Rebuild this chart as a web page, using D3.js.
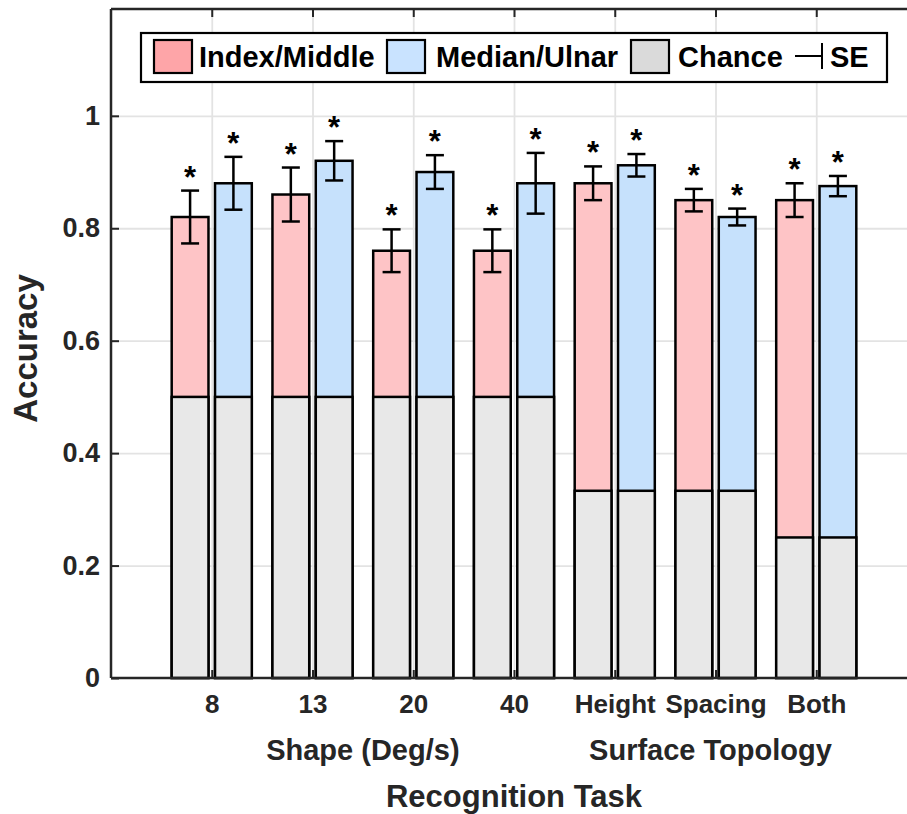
<!DOCTYPE html>
<html>
<head>
<meta charset="utf-8">
<script src="https://cdn.jsdelivr.net/npm/d3@7"></script>
<style>
  body { margin: 0; background: #fff; }
  svg { display: block; font-family: "Liberation Sans", Arial, sans-serif; font-weight: bold; }
</style>
</head>
<body>
<div id="chart"></div>
<script>
// task categories along x
const categories = ["8", "13", "20", "40", "Height", "Spacing", "Both"];
// mean accuracy per finger pair
const indexMiddle = [0.82, 0.86, 0.76, 0.76, 0.88, 0.85, 0.85];
const indexMiddleSE = [0.047, 0.048, 0.038, 0.038, 0.03, 0.02, 0.03];
const medianUlnar = [0.88, 0.92, 0.90, 0.88, 0.912, 0.82, 0.875];
const medianUlnarSE = [0.047, 0.035, 0.03, 0.054, 0.02, 0.015, 0.018];
// chance level per task
const chance = [0.5, 0.5, 0.5, 0.5, 0.333, 0.333, 0.25];
const yTicks = [0, 0.2, 0.4, 0.6, 0.8, 1];
const groupLabels = ["Shape (Deg/s)", "Surface Topology"];

const W = 907, H = 814;
const ink = "#262626";

const svg = d3.select("#chart").append("svg")
    .attr("width", W)
    .attr("height", H);

const x = d3.scaleLinear().domain([0, 8]).range([111, 917]);
const y = d3.scaleLinear().domain([0, 1.19]).range([678, 9]);

const barW = x(0.365) - x(0);
const offset = x(0.215) - x(0);

// Grid
svg.append("g")
    .attr("transform", `translate(${x(0)},0)`)
    .call(d3.axisLeft(y).tickValues(yTicks.slice(1)).tickSize(-(x(8) - x(0))).tickFormat(""))
    .call(g => g.select(".domain").remove())
    .selectAll("line").attr("stroke", "#e3e3e3").attr("stroke-width", 1.8);

svg.append("g")
    .attr("transform", `translate(0,${y(0)})`)
    .call(d3.axisBottom(x).tickValues(d3.range(1, 8)).tickSize(-(y(0) - y(1.19))).tickFormat(""))
    .call(g => g.select(".domain").remove())
    .selectAll("line").attr("stroke", "#e3e3e3").attr("stroke-width", 1.8);

// Axes (ticks inward)
svg.append("g")
    .attr("transform", `translate(${x(0)},0)`)
    .call(d3.axisLeft(y).tickValues(yTicks).tickSize(-8).tickPadding(11).tickFormat(d3.format("~g")))
    .call(g => g.select(".domain").remove())
    .call(g => g.selectAll("line").attr("stroke", ink).attr("stroke-width", 2))
    .call(g => g.selectAll("text").attr("fill", ink).attr("font-size", "27px")
        .attr("font-family", "Liberation Sans, Arial, sans-serif").attr("font-weight", "bold"));

svg.append("g")
    .attr("transform", `translate(0,${y(0)})`)
    .call(d3.axisBottom(x).tickValues(d3.range(1, 8)).tickSize(-8).tickPadding(17)
        .tickFormat(i => categories[i - 1]))
    .call(g => g.select(".domain").remove())
    .call(g => g.selectAll("line").attr("stroke", ink).attr("stroke-width", 2))
    .call(g => g.selectAll("text").attr("fill", ink).attr("font-size", "26px")
        .attr("font-family", "Liberation Sans, Arial, sans-serif").attr("font-weight", "bold"));

svg.append("g")
    .attr("transform", `translate(0,${y(1.19)})`)
    .call(d3.axisTop(x).tickValues(d3.range(1, 8)).tickSize(-8).tickFormat(""))
    .call(g => g.select(".domain").remove())
    .selectAll("line").attr("stroke", ink).attr("stroke-width", 2);

// Bars
const series = [
    { vals: indexMiddle, se: indexMiddleSE, fill: "#fec4c6", dx: -offset },
    { vals: medianUlnar, se: medianUlnarSE, fill: "#c6e1fc", dx: offset }
];

series.forEach(s => {
    const g = svg.append("g");
    categories.forEach((c, i) => {
        const cx = x(i + 1) + s.dx;
        g.append("rect")
            .attr("x", cx - barW / 2)
            .attr("y", y(s.vals[i]))
            .attr("width", barW)
            .attr("height", y(0) - y(s.vals[i]))
            .attr("fill", s.fill)
            .attr("stroke", "#000")
            .attr("stroke-width", 2.5);
        g.append("rect")
            .attr("x", cx - barW / 2)
            .attr("y", y(chance[i]))
            .attr("width", barW)
            .attr("height", y(0) - y(chance[i]))
            .attr("fill", "#e8e8e8")
            .attr("stroke", "#000")
            .attr("stroke-width", 2.5);

        // error bar
        const hi = y(s.vals[i] + s.se[i]), lo = y(s.vals[i] - s.se[i]);
        g.append("line").attr("x1", cx).attr("x2", cx).attr("y1", hi).attr("y2", lo)
            .attr("stroke", "#000").attr("stroke-width", 2.5);
        [hi, lo].forEach(yy => {
            g.append("line").attr("x1", cx - 9).attr("x2", cx + 9).attr("y1", yy).attr("y2", yy)
                .attr("stroke", "#000").attr("stroke-width", 2.5);
        });

        g.append("text")
            .attr("x", cx)
            .attr("y", hi - 3)
            .attr("text-anchor", "middle")
            .attr("font-size", "31px")
            .attr("fill", "#000")
            .text("*");
    });
});

// Box lines
const box = svg.append("g").attr("stroke", ink).attr("stroke-width", 2.5);
box.append("line").attr("x1", x(0)).attr("x2", x(0)).attr("y1", y(0)).attr("y2", y(1.19));
box.append("line").attr("x1", x(0)).attr("x2", x(8)).attr("y1", y(0)).attr("y2", y(0));
box.append("line").attr("x1", x(0)).attr("x2", x(8)).attr("y1", y(1.19)).attr("y2", y(1.19));

// Axis labels
svg.append("text")
    .attr("transform", `translate(37,${(y(0) + y(1.19)) / 2 + 5}) rotate(-90)`)
    .attr("text-anchor", "middle")
    .attr("font-size", "33px")
    .attr("fill", ink)
    .text("Accuracy");

svg.append("text")
    .attr("x", x(2.5)).attr("y", 760)
    .attr("text-anchor", "middle").attr("font-size", "29px").attr("fill", ink)
    .text(groupLabels[0]);
svg.append("text")
    .attr("x", x(5.95)).attr("y", 760)
    .attr("text-anchor", "middle").attr("font-size", "29px").attr("fill", ink)
    .text(groupLabels[1]);

svg.append("text")
    .attr("x", x(4)).attr("y", 807)
    .attr("text-anchor", "middle").attr("font-size", "31px").attr("fill", ink)
    .text("Recognition Task");

// Legend
const legend = svg.append("g");
legend.append("rect")
    .attr("x", 141).attr("y", 33).attr("width", 746).attr("height", 49)
    .attr("fill", "#fff").attr("stroke", "#000").attr("stroke-width", 2.2);

const legendItems = [
    { label: "Index/Middle", fill: "#fea5a8", sx: 154, tx: 199 },
    { label: "Median/Ulnar", fill: "#c9e3ff", sx: 387, tx: 436 },
    { label: "Chance", fill: "#dadada", sx: 631, tx: 678 }
];
legendItems.forEach(d => {
    legend.append("rect")
        .attr("x", d.sx).attr("y", 40).attr("width", 38).attr("height", 33)
        .attr("fill", d.fill).attr("stroke", "#000").attr("stroke-width", 2.2);
    legend.append("text")
        .attr("x", d.tx).attr("y", 67)
        .attr("font-size", "29px").attr("fill", "#000")
        .text(d.label);
});
legend.append("line").attr("x1", 795).attr("x2", 822).attr("y1", 56).attr("y2", 56)
    .attr("stroke", "#000").attr("stroke-width", 2);
legend.append("line").attr("x1", 822).attr("x2", 822).attr("y1", 43).attr("y2", 69)
    .attr("stroke", "#000").attr("stroke-width", 2);
legend.append("text")
    .attr("x", 830).attr("y", 67)
    .attr("font-size", "29px").attr("fill", "#000")
    .text("SE");
</script>
</body>
</html>
